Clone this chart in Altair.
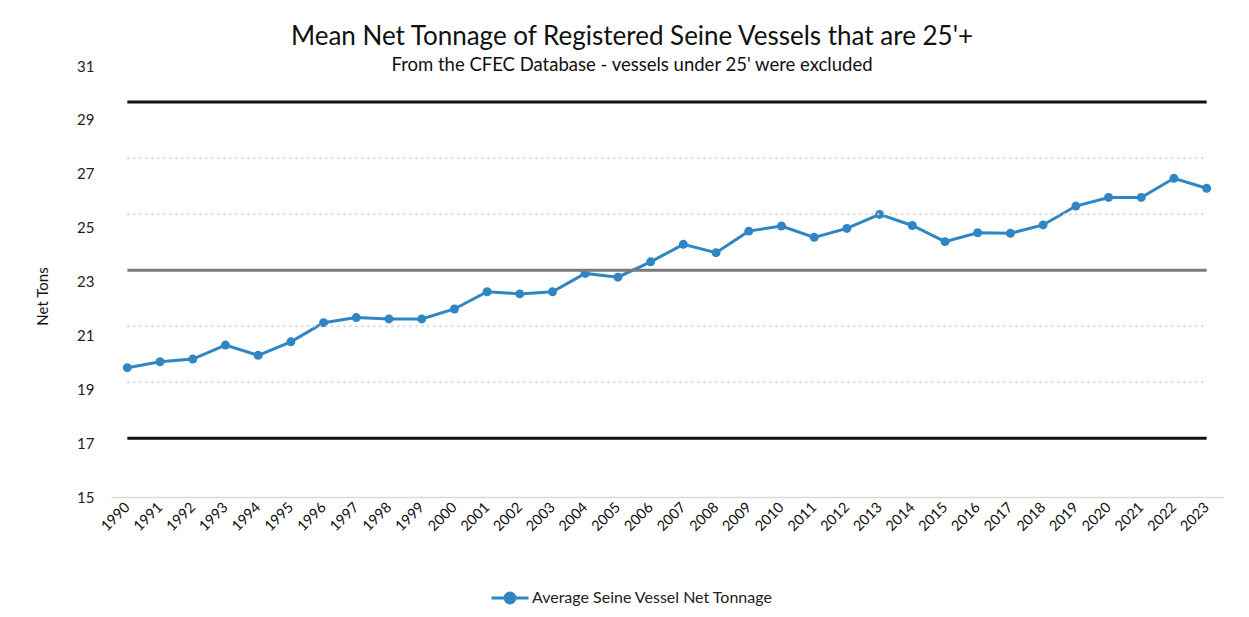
import altair as alt
import pandas as pd

years = [1990, 1991, 1992, 1993, 1994, 1995, 1996, 1997, 1998, 1999,
         2000, 2001, 2002, 2003, 2004, 2005, 2006, 2007, 2008, 2009,
         2010, 2011, 2012, 2013, 2014, 2015, 2016, 2017, 2018, 2019,
         2020, 2021, 2022, 2023]
tonnage = [19.80, 20.02, 20.12, 20.64, 20.26, 20.76, 21.47, 21.66, 21.61, 21.61,
           21.98, 22.62, 22.54, 22.62, 23.30, 23.16, 23.73, 24.38, 24.07, 24.87,
           25.06, 24.64, 24.97, 25.49, 25.08, 24.48, 24.81, 24.79, 25.10, 25.80,
           26.12, 26.12, 26.83, 26.46]

level_names = ["+3 SD", "+2 SD", "+1 SD", "Mean", "-1 SD", "-2 SD", "-3 SD"]
level_values = [29.66, 27.58, 25.50, 23.42, 21.34, 19.26, 17.18]

y_ticks = [15, 17, 19, 21, 23, 25, 27, 29, 31]
series_name = "Average Seine Vessel Net Tonnage"

BLUE = "#2f86c3"
FONT = "Lato"

main_df = pd.DataFrame({"year": [str(y) for y in years], "tons": tonnage, "series": series_name})
levels_df = pd.DataFrame([
    {"year": str(y), "level": n, "value": v}
    for n, v in zip(level_names, level_values) for y in years
])

x_axis = alt.Axis(labelAngle=315, labelAlign="right", labelBaseline="middle",
                  labelPadding=8, labelFontSize=14.5, labelFont=FONT, labelColor="#111",
                  ticks=False, domainColor="#d9d9d9", domainWidth=1.5, grid=False,
                  title=None)
y_axis = alt.Axis(values=y_ticks, grid=False, ticks=False, domain=False,
                  labelPadding=17, labelFontSize=15, labelFont=FONT, labelColor="#222",
                  title="Net Tons", titleFont=FONT, titleFontSize=15,
                  titleFontWeight="normal", titleColor="#111", titleAngle=270,
                  titleX=-69, titleY=230, titleAlign="center", titleBaseline="middle")
y_scale = alt.Scale(domain=[15, 31], nice=False, zero=False)

x_enc = alt.X("year:O", axis=x_axis, title=None)

base_levels = alt.Chart(levels_df)

dotted = base_levels.transform_filter(
    alt.FieldOneOfPredicate(field="level", oneOf=["+2 SD", "+1 SD", "-1 SD", "-2 SD"])
).mark_line(color="#d2d2d2", strokeDash=[2, 4], strokeWidth=2).encode(
    x=x_enc, y=alt.Y("value:Q", scale=y_scale, axis=y_axis), detail="level:N")

black = base_levels.transform_filter(
    alt.FieldOneOfPredicate(field="level", oneOf=["+3 SD", "-3 SD"])
).mark_line(color="#111111", strokeWidth=3).encode(
    x=x_enc, y=alt.Y("value:Q", scale=y_scale, axis=y_axis), detail="level:N")

mean = base_levels.transform_filter(
    alt.FieldEqualPredicate(field="level", equal="Mean")
).mark_line(color="#7a7a7a", strokeWidth=3).encode(
    x=x_enc, y=alt.Y("value:Q", scale=y_scale, axis=y_axis))

legend_path = ("M-1,0 L-0.27,0 M0.27,0 L1,0 "
               "M-0.27,0 A0.27,0.27 0 1,1 0.27,0 A0.27,0.27 0 1,1 -0.27,0 Z")

main_line = alt.Chart(main_df).mark_line(
    strokeWidth=3, point=alt.OverlayMarkDef(filled=True, size=80, color=BLUE)
).encode(
    x=x_enc,
    y=alt.Y("tons:Q", scale=y_scale, axis=y_axis),
    color=alt.Color("series:N", scale=alt.Scale(range=[BLUE]),
                    legend=alt.Legend(title=None, orient="none", legendX=379, legendY=512,
                                      symbolType=legend_path, symbolSize=1369,
                                      symbolStrokeWidth=3, symbolFillColor=BLUE,
                                      symbolStrokeColor=BLUE, labelFont=FONT,
                                      labelFontSize=16, labelColor="#222",
                                      labelLimit=0, labelOffset=2, padding=0)),
)

chart = alt.layer(main_line, dotted, mean, black).properties(
    width=1112,
    height=431,
    background="white",
    autosize=alt.AutoSizeParams(type="none"),
    padding={"left": 103, "top": 58, "right": 18, "bottom": 112},
    title=alt.TitleParams(
        text="Mean Net Tonnage of Registered Seine Vessels that are 25'+",
        subtitle="From the CFEC Database - vessels under 25' were excluded",
        font=FONT, subtitleFont=FONT, fontSize=26, subtitleFontSize=18.5,
        fontWeight="normal", color="#111", subtitleColor="#111",
        anchor="middle", dx=-35, offset=-15, subtitlePadding=6),
).configure_view(strokeWidth=0, stroke=None)

chart.save("out.html", embed_options={"renderer": "svg", "actions": False})
